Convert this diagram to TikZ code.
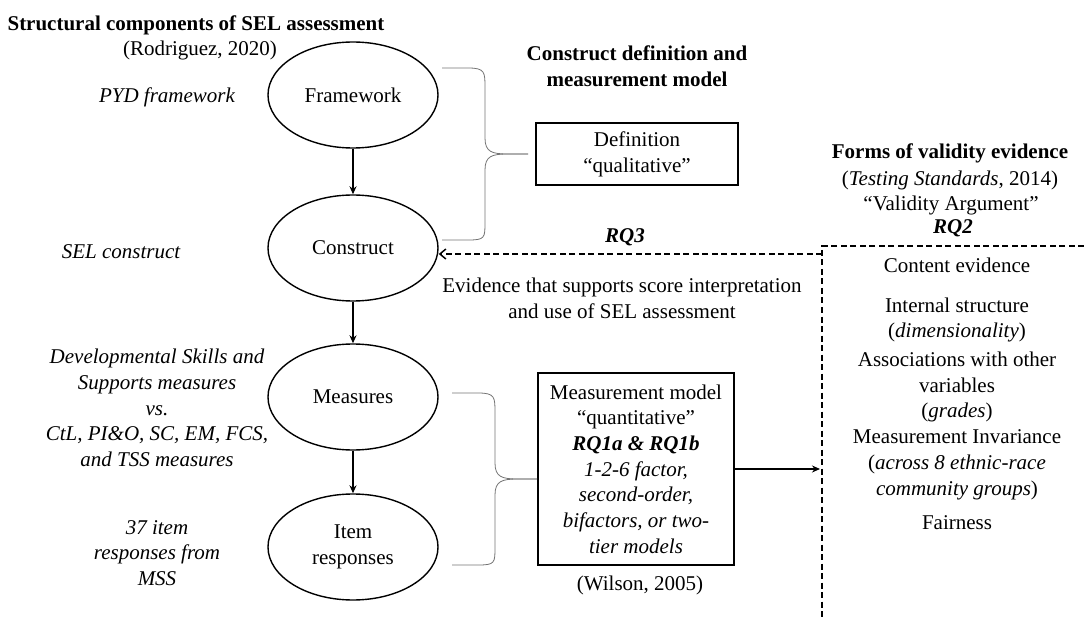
\documentclass[tikz,border=0pt]{standalone}
\usepackage{fontspec}
\setmainfont{Liberation Serif}
\usetikzlibrary{shapes.geometric,arrows.meta}
\begin{document}
\begin{tikzpicture}[x=1pt,y=-1pt,
  every node/.style={font=\fontsize{21}{25.7}\selectfont},
  oval/.style={draw,ellipse,line width=1.4pt,minimum width=170pt,minimum height=106pt,inner sep=0pt,align=center},
  box/.style={draw,line width=1.6pt,align=center,inner sep=0pt},
  lab/.style={align=center,font=\fontsize{21}{25.7}\selectfont\itshape},
  head/.style={align=center,font=\fontsize{21}{25.7}\selectfont\bfseries},
  flow/.style={-{Stealth[length=8pt,width=7pt]},line width=1.3pt},
  brc/.style={draw=black!55,line width=0.8pt},
  dsh/.style={dash pattern=on 6pt off 3.5pt,line width=1.5pt}
]
\useasboundingbox (0,0) rectangle (1084,620);

% left column: structural components
\node[head] (title) at (196,25) {Structural components of SEL assessment};
\node (rod) at (200,50) {(Rodriguez, 2020)};
\node[oval] (fw)  at (353,95)  {Framework};
\node[oval] (con) at (353,248) {Construct};
\node[oval] (mea) at (353,397) {Measures};
\node[oval] (itm) at (353,547) {Item\\responses};
\draw[flow] (fw) -- (con);
\draw[flow] (con) -- (mea);
\draw[flow] (mea) -- (itm);

\node[lab] (pyd)  at (167,97)  {PYD framework};
\node[lab] (selc) at (121,252) {SEL construct};
\node[lab] (dss)  at (157,408) {Developmental Skills and\\Supports measures\\vs.\\CtL, PI\&O, SC, EM, FCS,\\and TSS measures};
\node[lab] (mss)  at (157,553) {37 item\\responses from\\MSS};

% middle column: definition and measurement model
\node[head] (cdh) at (637,66) {Construct definition and\\measurement model};
\node[box,minimum width=202pt,minimum height=62pt] (def) at (637,154) {Definition\\“qualitative”};
\node[box,minimum width=196pt,minimum height=192pt] (mm) at (636,469)
  {Measurement model\\“quantitative”\\\textbf{\textit{RQ1a \& RQ1b}}\\\textit{1-2-6 factor,}\\\textit{second-order,}\\\textit{bifactors, or two-}\\\textit{tier models}};
\node (wil) at (640,585) {(Wilson, 2005)};

% braces grouping the ellipses
\draw[brc] (442,68) -- (468,68) .. controls (485,68) and (485,72) .. (485,88) -- (485,138)
  .. controls (485,152) and (492,154) .. (508,154) -- (528,154);
\draw[brc] (528,154) -- (508,154) .. controls (492,154) and (485,156) .. (485,170) -- (485,222)
  .. controls (485,238) and (485,240) .. (468,240) -- (442,240);
\draw[brc] (452,393) -- (478,393) .. controls (495,393) and (495,397) .. (495,413) -- (495,463)
  .. controls (495,477) and (502,479) .. (518,479) -- (537,479);
\draw[brc] (537,479) -- (518,479) .. controls (502,479) and (495,481) .. (495,495) -- (495,547)
  .. controls (495,563) and (495,565) .. (478,565) -- (452,565);

% validity evidence
\node (rq3) at (625,237) {\textbf{\textit{RQ3}}};
\node[align=center] (evi) at (622,298) {Evidence that supports score interpretation\\and use of SEL assessment};

\node[head] (fvh) at (950,153) {Forms of validity evidence};
\node (ts)  at (950,180) {(\textit{Testing Standards}, 2014)};
\node (va)  at (951,205) {“Validity Argument”};
\node (rq2) at (953,228) {\textbf{\textit{RQ2}}};
\node (ce)  at (957,265) {Content evidence};
\node[align=center] (is) at (957,320) {Internal structure\\(\textit{dimensionality})};
\node[align=center] (aw) at (957,387) {Associations with other\\variables\\(\textit{grades})};
\node[align=center] (mi) at (957,465) {Measurement Invariance\\(\textit{across 8 ethnic-race}\\\textit{community groups})};
\node (fa)  at (957,523) {Fairness};

\coordinate (htr)  at (1084,246);
\coordinate (vtop) at (822,246);
\coordinate (vbot) at (822,620);
\coordinate (arrin) at (822,254);
\coordinate (mmin) at (820,469);
\draw[dsh] (htr) -- (vtop) -- (vbot);
\draw[dsh,-{Straight Barb[length=6pt,width=10pt]}] (arrin) -- ([yshift=-6pt]con.east);
\draw[flow] (mm.east) -- (mmin);
\end{tikzpicture}
\end{document}
